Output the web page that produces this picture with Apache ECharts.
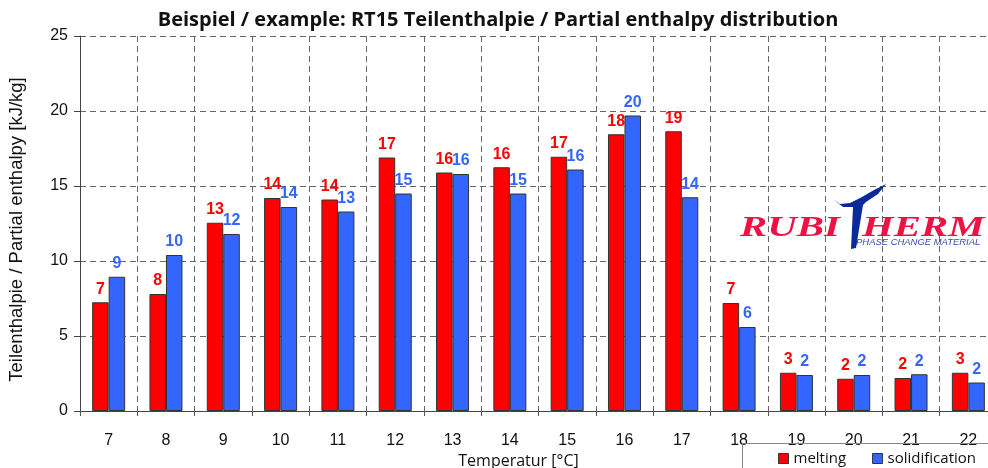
<!DOCTYPE html>
<html lang="de">
<head>
  <meta charset="UTF-8">
  <title>RT15 Teilenthalpie</title>
  <script src="https://cdn.jsdelivr.net/npm/echarts@6/dist/echarts.min.js"></script>
  <style>
    body { margin: 0; background: #fff; }
    #chart { width: 988px; height: 468px; }
  </style>
</head>
<body>
<div id="chart"></div>
<script>
  // data
  const temps = ["7", "8", "9", "10", "11", "12", "13", "14", "15", "16", "17", "18", "19", "20", "21", "22"];
  const melting = [7.25, 7.8, 12.55, 14.2, 14.1, 16.9, 15.9, 16.25, 16.95, 18.45, 18.65, 7.2, 2.55, 2.15, 2.2, 2.55];
  const solidification = [8.95, 10.4, 11.8, 13.6, 13.3, 14.5, 15.8, 14.5, 16.1, 19.7, 14.25, 5.6, 2.4, 2.4, 2.45, 1.9];
  const yTicks = [0, 5, 10, 15, 20, 25];

  const chart = echarts.init(document.getElementById("chart"));

  const labelFont = { fontFamily: "Liberation Sans", fontWeight: "bold", fontSize: 16 };

  chart.setOption({
    animation: false,
    backgroundColor: "#fff",
    title: {
      text: "Beispiel / example: RT15 Teilenthalpie / Partial enthalpy distribution",
      left: 493, top: 5, textAlign: "center",
      textStyle: { fontFamily: "Open Sans", fontWeight: "bold", fontSize: 20, color: "#111" }
    },
    legend: {
      left: 773, top: 446, itemGap: 26, itemWidth: 10, itemHeight: 10, icon: "rect",
      textStyle: { fontFamily: "Open Sans", fontSize: 15, color: "#111" },
      itemStyle: { borderColor: "#333", borderWidth: 1 },
      data: ["melting", "solidification"]
    },
    grid: { left: 80, top: 36, bottom: 57, width: 917, outerBoundsMode: "none", containLabel: false },
    xAxis: {
      type: "category",
      data: temps,
      name: "Temperatur [°C]",
      nameLocation: "middle",
      nameGap: 39,
      nameTextStyle: { fontFamily: "Open Sans", fontSize: 16, color: "#111", padding: [0, 40, 0, 0] },
      axisLine: { lineStyle: { color: "#444", width: 1 } },
      axisTick: { show: true, length: 8, lineStyle: { color: "#555", type: [5, 3] } },
      axisLabel: { fontFamily: "Liberation Sans", fontSize: 16, color: "#111", margin: 22 },
      splitLine: { show: true, lineStyle: { color: "#666", type: [6, 4] } }
    },
    yAxis: {
      type: "value",
      min: yTicks[0], max: yTicks[yTicks.length - 1], interval: 5,
      name: "Teilenthalpie / Partial enthalpy [kJ/kg]",
      nameLocation: "middle",
      nameGap: 54,
      nameTextStyle: { fontFamily: "Liberation Sans", fontSize: 18.5, color: "#111", padding: [0, 12, 0, 0] },
      axisLine: { show: true, lineStyle: { color: "#444", width: 1 } },
      axisTick: { show: true, length: 6, lineStyle: { color: "#444" } },
      axisLabel: { fontFamily: "Liberation Sans", fontSize: 16, color: "#111", margin: 12 },
      splitLine: { show: true, lineStyle: { color: "#666", type: [6, 4] } }
    },
    series: [
      {
        name: "melting", type: "bar", data: melting,
        barWidth: 16.5, barGap: "0%",
        itemStyle: { color: "#ff0000", borderColor: "#333", borderWidth: 1 },
        label: Object.assign({ show: true, position: "top", distance: 5, color: "#ff0000",
          formatter: p => Math.round(p.value) }, labelFont)
      },
      {
        name: "solidification", type: "bar", data: solidification,
        barWidth: 16.5, barGap: "0%",
        itemStyle: { color: "#3366ff", borderColor: "#333", borderWidth: 1 },
        label: Object.assign({ show: true, position: "top", distance: 5, color: "#3366ff",
          formatter: p => Math.round(p.value) }, labelFont)
      }
    ],
    graphic: [
      // legend frame
      { type: "rect", shape: { x: 742.5, y: 443.5, width: 260, height: 30 },
        style: { fill: "none", stroke: "#888", lineWidth: 1 }, z: 10 },
      // logo
      { type: "text", x: 740, y: 213, scaleX: 1.36, z: 6,
        style: { text: "RUBI", font: "italic bold 30px 'Liberation Serif'", fill: "#ee1144" } },
      { type: "text", x: 862, y: 213, scaleX: 1.36, z: 6,
        style: { text: "HERM", font: "italic bold 30px 'Liberation Serif'", fill: "#ee1144" } },
      { type: "text", x: 856, y: 238, scaleX: 1.05, z: 6,
        style: { text: "PHASE CHANGE MATERIAL", font: "italic 9px 'Liberation Sans'", fill: "#3a4aa8" } },
      { type: "polygon", z: 7,
        shape: { points: [[833, 199], [840, 204], [850, 203], [862, 197], [874, 190], [886, 184],
          [878, 194], [866, 202], [863, 205], [856, 248], [851, 249], [853, 207], [843, 207]] },
        style: { fill: "#0a2a9a" } }
    ]
  });
</script>
</body>
</html>
